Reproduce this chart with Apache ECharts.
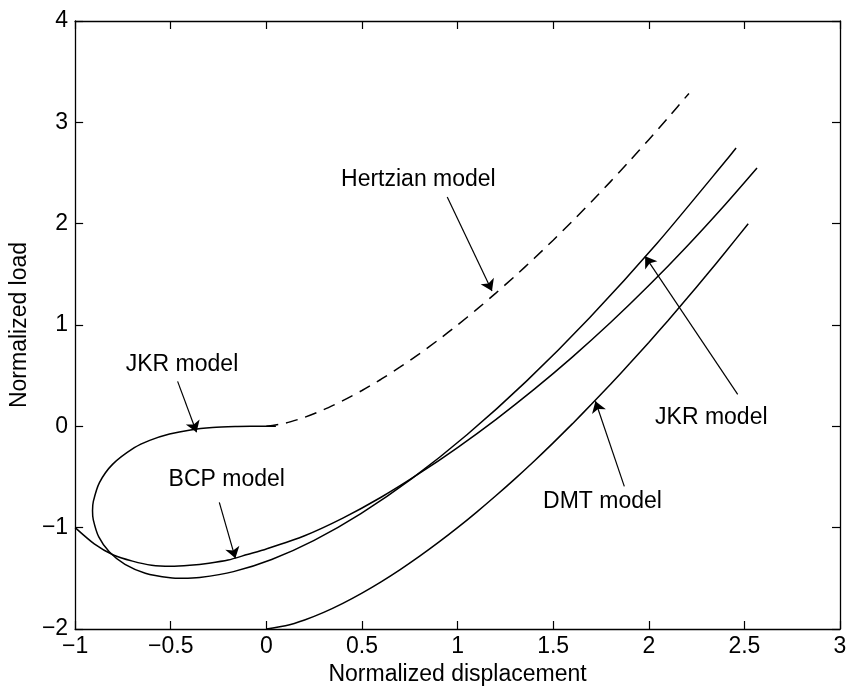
<!DOCTYPE html>
<html>
<head>
<meta charset="utf-8">
<title>Normalized load vs displacement</title>
<script src="https://cdn.jsdelivr.net/npm/echarts@6/dist/echarts.min.js"></script>
<style>
  html, body { margin: 0; padding: 0; background: #fff; }
  #chart { width: 852px; height: 691px; }
</style>
</head>
<body>
<div id="chart"></div>
<script>
// Hertzian contact (dashed)
const hertzDisp = [0, 0.1, 0.2, 0.3, 0.4, 0.5, 0.6, 0.7, 0.8, 0.9, 1.0, 1.1, 1.2, 1.3, 1.4, 1.5, 1.6, 1.7, 1.8, 1.9, 2.0, 2.1, 2.21];
const hertzLoad = [0, 0.0316, 0.0894, 0.1643, 0.253, 0.3536, 0.4648, 0.5857, 0.7155, 0.8538, 1.0, 1.1537, 1.3145, 1.4822, 1.6565, 1.8371, 2.0239, 2.2165, 2.415, 2.619, 2.8284, 3.0432, 3.2854];

// JKR curve, traced from the origin round the loop and up to the right
const jkrDisp = [0.05, 0, -0.0817, -0.1632, -0.2819, -0.3964, -0.5064, -0.61, -0.6903, -0.8044, -0.8728, -0.9047, -0.909, -0.9049, -0.8763, -0.8206, -0.7392, -0.633, -0.5027, -0.437, -0.3488, -0.1719, 0.0278, 0.25, 0.4944, 0.7608, 1.0491, 1.3591, 1.6906, 2.0436, 2.4179, 2.4565];
const jkrLoad = [0, 0, -0.0003, -0.0025, -0.0127, -0.0358, -0.0765, -0.1389, -0.2111, -0.3755, -0.5557, -0.741, -0.833, -0.9224, -1.0915, -1.2407, -1.3624, -1.449, -1.4949, -1.5, -1.4919, -1.4337, -1.3136, -1.125, -0.8614, -0.5164, -0.0834, 0.4437, 1.0718, 1.8067, 2.6551, 2.7463];

// BCP curve
const bcpDisp = [-1.0, -0.9, -0.8, -0.7, -0.6, -0.5, -0.4, -0.3, -0.2, -0.1, 0, 0.2, 0.4, 0.6, 0.8, 1.0, 1.2, 1.4, 1.6, 1.8, 2.0, 2.2, 2.4, 2.566];
const bcpLoad = [-1.0, -1.16, -1.27, -1.33, -1.37, -1.38, -1.37, -1.35, -1.32, -1.265, -1.21, -1.08, -0.906, -0.70, -0.465, -0.209, 0.067, 0.364, 0.683, 1.024, 1.389, 1.778, 2.19, 2.55];

// DMT curve
const dmtDisp = [0, 0.1, 0.2, 0.3, 0.4, 0.5, 0.6, 0.7, 0.8, 0.9, 1.0, 1.1, 1.2, 1.3, 1.4, 1.5, 1.6, 1.7, 1.8, 1.9, 2.0, 2.1, 2.2, 2.3, 2.4, 2.52];
const dmtLoad = [-2, -1.968, -1.911, -1.836, -1.747, -1.646, -1.535, -1.414, -1.284, -1.146, -1.0, -0.846, -0.685, -0.518, -0.344, -0.163, 0.024, 0.217, 0.415, 0.619, 0.828, 1.043, 1.263, 1.488, 1.718, 2.0];

// Annotation text and arrows (data coordinates)
const noteText = ['Hertzian model', 'JKR model', 'BCP model', 'JKR model', 'DMT model'];
const noteAt = [[0.795, 2.43], [-0.441, 0.612], [-0.207, -0.523], [2.327, 0.089], [1.758, -0.74]];
const arrowFrom = [[0.946, 2.264], [-0.464, 0.444], [-0.246, -0.75], [2.465, 0.316], [1.872, -0.592]];
const arrowTo = [[1.18, 1.336], [-0.365, -0.059], [-0.162, -1.303], [1.981, 1.678], [1.721, 0.247]];

const FONT = "'Liberation Sans', Arial, Helvetica, sans-serif";
const pairs = (xs, ys) => xs.map((x, i) => [x, ys[i]]);
const minusFmt = v => String(v).replace('-', '\u2212');

const chart = echarts.init(document.getElementById('chart'), null, { renderer: 'canvas' });

const axisLine = { show: true, onZero: false, lineStyle: { color: '#000', width: 1.3 } };
const tick = { show: true, inside: true, length: 8, lineStyle: { color: '#000', width: 1.2 } };

const curve = (name, data, dashed) => ({
  name,
  type: 'line',
  data,
  showSymbol: false,
  smooth: 0.25,
  lineStyle: { color: '#000', width: 1.5, type: dashed ? [12, 8] : 'solid' },
  silent: true,
  z: 3
});

chart.setOption({
  animation: false,
  backgroundColor: '#fff',
  grid: { left: 72, right: 12, top: 21, bottom: 62, containLabel: false },
  xAxis: [
    {
      type: 'value', min: -1, max: 3, interval: 0.5, position: 'bottom',
      axisLine, axisTick: tick, splitLine: { show: false },
      axisLabel: { color: '#000', fontSize: 23, fontFamily: FONT, margin: 6, formatter: minusFmt },
      name: 'Normalized displacement', nameLocation: 'middle', nameGap: 33,
      nameTextStyle: { color: '#000', fontSize: 23, fontFamily: FONT }
    },
    {
      type: 'value', min: -1, max: 3, interval: 0.5, position: 'top',
      axisLine, axisTick: tick, splitLine: { show: false }, axisLabel: { show: false }
    }
  ],
  yAxis: [
    {
      type: 'value', min: -2, max: 4, interval: 1, position: 'left',
      axisLine, axisTick: tick, splitLine: { show: false },
      axisLabel: { color: '#000', fontSize: 23, fontFamily: FONT, margin: 7, formatter: minusFmt },
      name: 'Normalized load', nameLocation: 'middle', nameGap: 38,
      nameTextStyle: { color: '#000', fontSize: 23, fontFamily: FONT }
    },
    {
      type: 'value', min: -2, max: 4, interval: 1, position: 'right',
      axisLine, axisTick: tick, splitLine: { show: false }, axisLabel: { show: false }
    }
  ],
  series: [
    curve('Hertzian', pairs(hertzDisp, hertzLoad), true),
    curve('JKR', pairs(jkrDisp, jkrLoad), false),
    curve('BCP', pairs(bcpDisp, bcpLoad), false),
    curve('DMT', pairs(dmtDisp, dmtLoad), false),
    {
      name: 'notes',
      type: 'scatter',
      symbolSize: 0,
      silent: true,
      z: 5,
      itemStyle: { opacity: 1, color: '#000' },
      data: noteText.map((t, i) => ({ name: t, value: noteAt[i] })),
      label: {
        show: true, position: 'inside', formatter: p => p.name,
        color: '#000', opacity: 1, textBorderWidth: 0,
        fontSize: 23, fontFamily: FONT
      },
      markLine: {
        silent: true,
        symbol: ['none', 'arrow'],
        symbolSize: 11,
        label: { show: false },
        lineStyle: { color: '#000', width: 1.2, type: 'solid', opacity: 1 },
        itemStyle: { color: '#000' },
        emphasis: { disabled: true },
        data: arrowFrom.map((f, i) => [{ coord: f }, { coord: arrowTo[i] }])
      }
    }
  ]
});
</script>
</body>
</html>
